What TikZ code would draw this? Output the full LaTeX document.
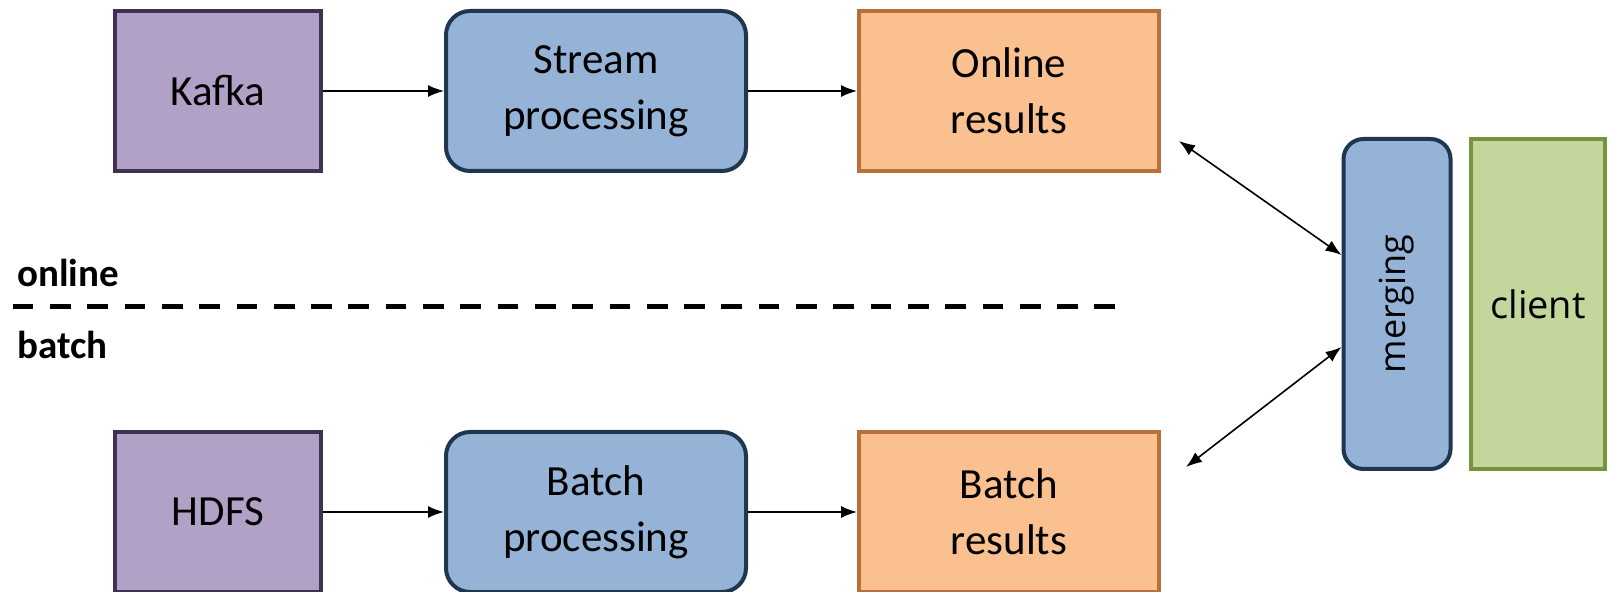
\documentclass[tikz,border=0pt]{standalone}
\usepackage{fontspec}
\setmainfont{Carlito}
\newfontfamily\sidefont{Open Sans}
\usetikzlibrary{arrows.meta}
\definecolor{srcfill}{HTML}{B2A1C7}
\definecolor{srcline}{HTML}{3F3151}
\definecolor{procfill}{HTML}{95B3D7}
\definecolor{procline}{HTML}{1F3550}
\definecolor{resfill}{HTML}{FAC090}
\definecolor{resline}{HTML}{B8703A}
\definecolor{clifill}{HTML}{C3D69B}
\definecolor{cliline}{HTML}{77933C}
\tikzset{
  box/.style={line width=2pt, align=center, inner sep=0pt,
    font=\fontsize{21.5}{28}\selectfont},
  src/.style={box, draw=srcline, fill=srcfill, minimum width=103pt, minimum height=80pt},
  proc/.style={box, draw=procline, fill=procfill, rounded corners=12pt,
    minimum width=150pt, minimum height=80pt},
  res/.style={box, draw=resline, fill=resfill, minimum width=150pt, minimum height=80pt},
  flow/.style={-{Latex[length=8pt,width=6pt]}, line width=0.8pt},
  twoway/.style={{Latex[length=8pt,width=6pt]}-{Latex[length=8pt,width=6pt]}, line width=0.8pt},
  side/.style={font=\bfseries\fontsize{19.5}{22}\selectfont, anchor=base west, inner sep=0pt}
}
\begin{document}
\begin{tikzpicture}[x=0.5pt,y=-0.5pt]
  \useasboundingbox (0,0) rectangle (1610,592);
  \node[src] (kafka) at (218,91) {Kafka};
  \node[proc] (stream) at (596,91) {Stream\\processing};
  \node[res] (online) at (1009,91) {Online\\results};
  \node[src] (hdfs) at (218,512) {HDFS};
  \node[proc] (batchp) at (596,512) {Batch\\processing};
  \node[res] (batchr) at (1009,512) {Batch\\results};
  \node[box, draw=procline, fill=procfill, rounded corners=10pt,
    minimum width=53.5pt, minimum height=165pt] (merging) at (1397,304) {};
  \node[rotate=90, font=\sidefont\fontsize{18}{20}\selectfont] (mlabel) at (merging.center) {merging};
  \node[box, draw=cliline, fill=clifill, minimum width=67pt, minimum height=165pt,
    font=\sidefont\fontsize{19}{22}\selectfont] (client) at (1538,304) {client};
  \node[side] (onl) at (17,287) {online};
  \node[side] (bat) at (17,359) {batch};
  \coordinate (split1) at (12.7,306.7);
  \coordinate (split2) at (1116.7,306.7);
  \coordinate (otip) at (1179,141);
  \coordinate (btip) at (1186,467);
  \draw[line width=2.6pt, dash pattern=on 10.35pt off 8.3pt] (split1) to (split2);
  \draw[flow] (kafka.east) to (stream.west);
  \draw[flow] (stream.east) to (online.west);
  \draw[flow] (hdfs.east) to (batchp.west);
  \draw[flow] (batchp.east) to (batchr.west);
  \draw[twoway] (otip) to ([yshift=24.5pt]merging.west);
  \draw[twoway] (btip) to ([yshift=-21.5pt]merging.west);
\end{tikzpicture}
\end{document}
